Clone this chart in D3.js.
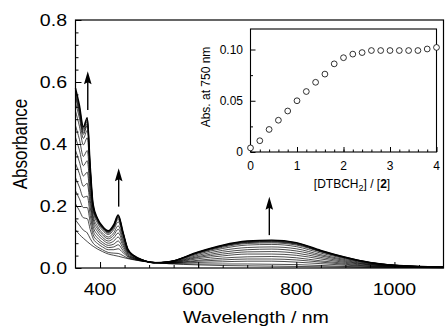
<!DOCTYPE html>
<html>
<head>
<meta charset="utf-8">
<script src="https://cdn.jsdelivr.net/npm/d3@7"></script>
<style>
  body { margin: 0; background: #fff; }
  text { font-family: "Liberation Sans", Arial, Helvetica, sans-serif; fill: #000; }
</style>
</head>
<body>
<div id="chart"></div>
<script>
"use strict";

// titration spectra, one row per addition (absorbance at each wavelength)
const wavelengths = [350, 358, 366, 374, 380, 386, 395, 405, 417, 428, 437, 447, 457, 470, 490, 510, 540, 600, 650, 700, 750, 800, 850, 900, 950, 1000, 1100];
const spectra = [
  [.123,.108,.096,.085,.077,.070,.061,.053,.045,.041,.038,.034,.030,.026,.021,.018,.014,.010,.008,.007,.006,.005,.004,.003,.002,.002,.001],
  [.155,.138,.122,.113,.095,.080,.068,.059,.050,.048,.047,.040,.032,.027,.021,.018,.014,.013,.013,.013,.012,.011,.008,.005,.003,.002,.001],
  [.207,.185,.162,.159,.124,.095,.079,.068,.059,.059,.062,.049,.036,.028,.022,.018,.015,.018,.020,.022,.022,.019,.014,.009,.005,.003,.001],
  [.249,.223,.195,.195,.147,.107,.088,.076,.066,.068,.075,.056,.038,.030,.022,.018,.016,.022,.026,.029,.029,.026,.019,.012,.006,.004,.002],
  [.291,.261,.228,.232,.170,.120,.097,.083,.073,.077,.087,.064,.041,.031,.022,.018,.016,.025,.032,.036,.037,.033,.023,.015,.008,.005,.002],
  [.337,.304,.264,.273,.196,.133,.107,.092,.080,.087,.100,.072,.044,.032,.022,.018,.017,.030,.039,.045,.045,.041,.029,.018,.010,.005,.002],
  [.379,.342,.297,.309,.219,.146,.117,.099,.087,.097,.113,.079,.047,.033,.023,.017,.017,.034,.045,.052,.053,.048,.034,.021,.011,.006,.002],
  [.421,.380,.330,.346,.242,.158,.126,.107,.094,.106,.125,.087,.050,.035,.023,.017,.018,.037,.051,.059,.061,.055,.039,.024,.012,.007,.002],
  [.459,.415,.360,.379,.263,.169,.134,.113,.100,.114,.136,.094,.052,.036,.023,.017,.018,.041,.057,.066,.068,.062,.043,.027,.014,.007,.003],
  [.506,.457,.397,.420,.289,.183,.144,.122,.108,.124,.149,.102,.055,.037,.024,.017,.019,.045,.063,.074,.076,.069,.048,.030,.015,.008,.003],
  [.533,.483,.418,.444,.304,.191,.150,.127,.112,.130,.157,.107,.057,.038,.024,.017,.019,.048,.067,.079,.081,.074,.052,.032,.016,.008,.003],
  [.550,.497,.431,.459,.313,.196,.153,.130,.115,.133,.162,.110,.058,.038,.024,.017,.020,.049,.070,.082,.084,.077,.053,.033,.017,.009,.003],
  [.557,.504,.437,.465,.317,.198,.155,.131,.116,.135,.164,.111,.059,.038,.024,.017,.020,.050,.071,.083,.086,.078,.054,.033,.017,.009,.003],
  [.566,.512,.444,.473,.322,.201,.157,.132,.118,.137,.167,.113,.059,.039,.024,.017,.020,.051,.072,.085,.087,.080,.055,.034,.018,.009,.003],
  [.573,.519,.450,.479,.326,.203,.159,.134,.119,.139,.169,.114,.060,.039,.024,.017,.020,.051,.073,.086,.089,.081,.056,.035,.018,.009,.003],
  [.580,.525,.455,.485,.330,.205,.160,.135,.120,.140,.171,.115,.060,.039,.024,.017,.020,.052,.074,.087,.090,.082,.057,.035,.018,.009,.003]
];

// arrows: wavelength, absorbance of tail and of tip
const arrowWl = [375, 438, 745];
const arrowFrom = [0.51, 0.198, 0.106];
const arrowTo = [0.635, 0.322, 0.23];

// inset: absorbance at 750 nm vs equivalents
const ratio = [0, 0.2, 0.4, 0.6, 0.8, 1.0, 1.2, 1.4, 1.6, 1.8, 2.0, 2.2, 2.4, 2.6, 2.8, 3.0, 3.2, 3.4, 3.6, 3.8, 4.0];
const abs750 = [0.004, 0.011, 0.022, 0.031, 0.040, 0.050, 0.059, 0.068, 0.076, 0.086, 0.092, 0.0955, 0.097, 0.099, 0.099, 0.099, 0.099, 0.099, 0.099, 0.1005, 0.102];

const mainXTicks = [400, 600, 800, 1000];
const mainYTicks = [0, 0.2, 0.4, 0.6, 0.8];
const insetXTicks = [0, 1, 2, 3, 4];
const insetYTicks = [0, 0.05, 0.10];

const width = 445;
const height = 327;
const stretch = 1.15;

const svg = d3.select("#chart")
  .append("svg")
  .attr("width", width)
  .attr("height", height)
;

// ---- main plot ----
const x = d3.scaleLinear().domain([350, 1100]).range([75.5, 443.5]);
const y = d3.scaleLinear().domain([0, 0.8]).range([268, 20]);

svg.append("g")
  .attr("transform", "translate(0,268)")
  .call(d3.axisBottom(x).tickValues(d3.range(400, 1100, 50)).tickSize(-3).tickFormat(""))
  .call(g => g.select(".domain").remove())
;
svg.append("g")
  .attr("transform", "translate(0,268)")
  .call(d3.axisBottom(x).tickValues(mainXTicks).tickSize(-6).tickFormat(""))
  .call(g => g.select(".domain").remove())
;
svg.append("g")
  .attr("transform", "translate(75.5,0)")
  .call(d3.axisLeft(y).tickValues(d3.range(0.04, 0.8, 0.04)).tickSize(-3).tickFormat(""))
  .call(g => g.select(".domain").remove())
;
svg.append("g")
  .attr("transform", "translate(75.5,0)")
  .call(d3.axisLeft(y).tickValues(mainYTicks).tickSize(-6).tickFormat(""))
  .call(g => g.select(".domain").remove())
;

svg.selectAll(".xlab")
  .data(mainXTicks)
  .enter()
  .append("text")
  .attr("class", "xlab")
  .attr("transform", d => `translate(${x(d)},295) scale(${stretch},1)`)
  .attr("text-anchor", "middle")
  .attr("font-size", 17)
  .text(d => d)
;
svg.selectAll(".ylab")
  .data(mainYTicks)
  .enter()
  .append("text")
  .attr("class", "ylab")
  .attr("transform", d => `translate(67,${y(d) + 6}) scale(${stretch},1)`)
  .attr("text-anchor", "end")
  .attr("font-size", 17)
  .text(d => d.toFixed(1))
;
svg.append("text")
  .attr("transform", `translate(256,322.5) scale(${stretch},1)`)
  .attr("text-anchor", "middle")
  .attr("font-size", 17)
  .text("Wavelength / nm")
;
svg.append("text")
  .attr("transform", `translate(27,144) scale(${stretch},1) rotate(-90)`)
  .attr("text-anchor", "middle")
  .attr("font-size", 17)
  .text("Absorbance")
;

const line = d3.line()
  .x((d, i) => x(wavelengths[i]))
  .y(d => y(d))
  .curve(d3.curveMonotoneX)
;

svg.append("g")
  .selectAll("path")
  .data(spectra)
  .enter()
  .append("path")
  .attr("d", line)
  .attr("fill", "none")
  .attr("stroke", "#000")
  .attr("stroke-width", (d, i) => i === spectra.length - 1 ? 1.4 : 0.7)
;

svg.append("rect")
  .attr("x", 75.5)
  .attr("y", 20)
  .attr("width", 368)
  .attr("height", 248)
  .attr("fill", "none")
  .attr("stroke", "#000")
  .attr("stroke-width", 1.2)
;

// arrows
arrowWl.forEach((wl, i) => {
  const ax = x(wl);
  const y0 = y(arrowFrom[i]);
  const y1 = y(arrowTo[i]);
  svg.append("line")
    .attr("x1", ax).attr("x2", ax)
    .attr("y1", y0).attr("y2", y1 + 10)
    .attr("stroke", "#000")
    .attr("stroke-width", 1.4)
  ;
  svg.append("path")
    .attr("d", `M${ax},${y1} L${ax - 3.8},${y1 + 13} L${ax},${y1 + 11} L${ax + 3.8},${y1 + 13} Z`)
    .attr("fill", "#000")
  ;
});

// ---- inset ----
const ix = d3.scaleLinear().domain([0, 4]).range([250.5, 436.5]);
const iy = d3.scaleLinear().domain([0, 0.12]).range([152, 29]);

svg.append("g")
  .attr("transform", "translate(0,152)")
  .call(d3.axisBottom(ix).tickValues(d3.range(0.2, 4, 0.2)).tickSize(-2.5).tickFormat(""))
  .call(g => g.select(".domain").remove())
;
svg.append("g")
  .attr("transform", "translate(0,152)")
  .call(d3.axisBottom(ix).tickValues(insetXTicks).tickSize(-5).tickFormat(""))
  .call(g => g.select(".domain").remove())
;
svg.append("g")
  .attr("transform", "translate(250.5,0)")
  .call(d3.axisLeft(iy).tickValues([0.025, 0.075]).tickSize(-2.5).tickFormat(""))
  .call(g => g.select(".domain").remove())
;
svg.append("g")
  .attr("transform", "translate(250.5,0)")
  .call(d3.axisLeft(iy).tickValues(insetYTicks).tickSize(-5).tickFormat(""))
  .call(g => g.select(".domain").remove())
;

svg.append("rect")
  .attr("x", 250.5)
  .attr("y", 29)
  .attr("width", 186)
  .attr("height", 123)
  .attr("fill", "none")
  .attr("stroke", "#000")
  .attr("stroke-width", 1.1)
;

svg.selectAll(".ixlab")
  .data(insetXTicks)
  .enter()
  .append("text")
  .attr("class", "ixlab")
  .attr("x", d => ix(d))
  .attr("y", 169.5)
  .attr("text-anchor", "middle")
  .attr("font-size", 12)
  .text(d => d)
;
svg.selectAll(".iylab")
  .data(insetYTicks)
  .enter()
  .append("text")
  .attr("class", "iylab")
  .attr("x", 243)
  .attr("y", d => iy(d) + 4.3)
  .attr("text-anchor", "end")
  .attr("font-size", 12)
  .text(d => d === 0 ? "0" : d.toFixed(2))
;

const ititle = svg.append("text")
  .attr("x", 352)
  .attr("y", 188)
  .attr("text-anchor", "middle")
  .attr("font-size", 12)
;
ititle.append("tspan").text("[DTBCH");
ititle.append("tspan").attr("font-size", 9).attr("dy", 3).text("2");
ititle.append("tspan").attr("dy", -3).text("] / [");
ititle.append("tspan").attr("font-weight", "bold").text("2");
ititle.append("tspan").text("]");

svg.append("text")
  .attr("transform", "translate(210,87) rotate(-90)")
  .attr("text-anchor", "middle")
  .attr("font-size", 12)
  .text("Abs. at 750 nm")
;

svg.append("g")
  .selectAll("circle")
  .data(abs750)
  .enter()
  .append("circle")
  .attr("cx", (d, i) => ix(ratio[i]))
  .attr("cy", d => iy(d))
  .attr("r", 2.9)
  .attr("fill", "#fff")
  .attr("stroke", "#000")
  .attr("stroke-width", 0.8)
;
</script>
</body>
</html>
